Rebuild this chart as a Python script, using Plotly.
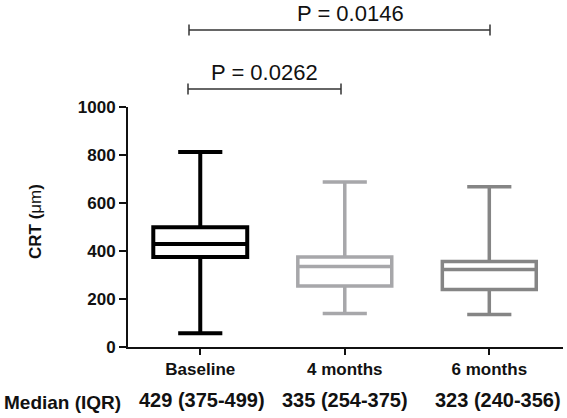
import plotly.graph_objects as go

categories = ["Baseline", "4 months", "6 months"]
q1 = [375, 254, 240]
median = [429, 335, 323]
q3 = [499, 375, 356]
lower = [57, 140, 135]
upper = [813, 688, 668]
colors = ["#000000", "#a7a7aa", "#858585"]
widths = [4, 3.5, 3.5]
summary = ["429 (375-499)", "335 (254-375)", "323 (240-356)"]
yticks = [0, 200, 400, 600, 800, 1000]
pvals = ["P = 0.0262", "P = 0.0146"]

FONT = "Arial, Liberation Sans, sans-serif"

fig = go.Figure()
for i, c in enumerate(categories):
    fig.add_trace(go.Box(
        x=[c], q1=[q1[i]], median=[median[i]], q3=[q3[i]],
        lowerfence=[lower[i]], upperfence=[upper[i]],
        width=0.65, whiskerwidth=0.47,
        line=dict(color=colors[i], width=widths[i]),
        fillcolor="white", boxpoints=False, showlegend=False,
        hoverinfo="skip",
    ))

W, H = 567, 418
L, R, T, B = 128, 4, 107, 71

def py(p):
    return (H - B - p) / (H - T - B)

def px(p):
    return (p - L) / (W - L - R)

shapes = []
def bracket(x0, x1, ypix):
    y = py(ypix)
    dy = 5.5 / (H - T - B)
    st = dict(color="#333333", width=1.5)
    shapes.append(dict(type="line", xref="paper", yref="paper", x0=px(x0), x1=px(x1), y0=y, y1=y, line=st))
    for xx in (x0, x1):
        shapes.append(dict(type="line", xref="paper", yref="paper", x0=px(xx), x1=px(xx), y0=y - dy, y1=y + dy, line=st))

bracket(188, 341, 89)
bracket(189, 490, 30)

annotations = [
    dict(text=pvals[0], xref="paper", yref="paper", x=px(264), y=py(72), showarrow=False,
         font=dict(family=FONT, size=22, color="#111111"), xanchor="center", yanchor="middle"),
    dict(text=pvals[1], xref="paper", yref="paper", x=px(350), y=py(13), showarrow=False,
         font=dict(family=FONT, size=22, color="#111111"), xanchor="center", yanchor="middle"),
    dict(text="<b>Median (IQR)</b>", xref="paper", yref="paper", x=px(2), y=py(402), showarrow=False,
         font=dict(family=FONT, size=19, color="#111111"), xanchor="left", yanchor="middle"),
]
centers = [202, 345, 498]
for i, s in enumerate(summary):
    annotations.append(dict(text="<b>%s</b>" % s, xref="paper", yref="paper", x=px(centers[i]), y=py(400),
                            showarrow=False, font=dict(family=FONT, size=20, color="#111111"),
                            xanchor="center", yanchor="middle"))
annotations.append(dict(text="<b>CRT (</b>μm<b>)</b>", xref="paper", yref="paper", x=px(35), y=py(222),
                        textangle=-90, showarrow=False, font=dict(family=FONT, size=17, color="#111111"),
                        xanchor="center", yanchor="middle"))

fig.update_layout(
    width=W, height=H,
    margin=dict(l=L, r=R, t=T, b=B),
    paper_bgcolor="white", plot_bgcolor="white",
    boxmode="overlay",
    shapes=shapes, annotations=annotations,
    font=dict(family=FONT, color="#111111"),
    xaxis=dict(
        type="category", categoryorder="array", categoryarray=categories,
        range=[-0.5, 2.51], showline=True, linecolor="#111111", linewidth=2,
        ticks="outside", ticklen=6, tickwidth=2, tickcolor="#111111",
        tickfont=dict(family=FONT, size=17, color="#111111"),
        tickvals=categories, ticktext=["<b>%s</b>" % c for c in categories],
        showgrid=False, zeroline=False, fixedrange=True,
    ),
    yaxis=dict(
        range=[0, 1000], tickvals=yticks, ticktext=["<b>%d</b>" % v for v in yticks],
        showline=True, linecolor="#111111", linewidth=2,
        ticks="outside", ticklen=7, tickwidth=2, tickcolor="#111111",
        tickfont=dict(family=FONT, size=17, color="#111111"),
        showgrid=False, zeroline=False, fixedrange=True,
    ),
)

fig.write_html("out.html")
